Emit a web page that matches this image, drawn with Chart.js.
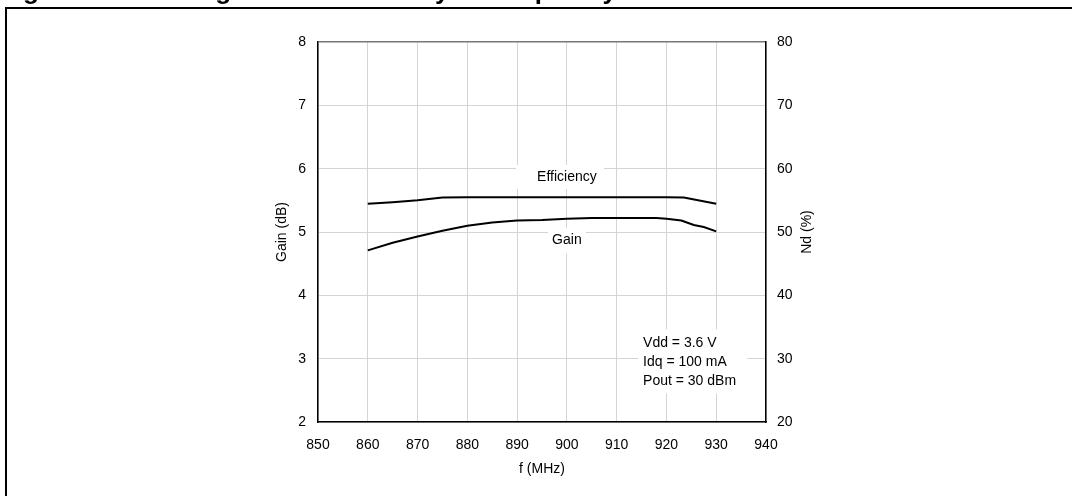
<!DOCTYPE HTML>
<html>

<head>
    <title>Gain and efficiency vs frequency</title>
    <meta charset="utf-8">
    <script src="https://cdn.jsdelivr.net/npm/chart.js@4.4.1/dist/chart.umd.min.js"></script>
    <style>
        html,
        body {
            margin: 0;
            padding: 0;
            background: #fff;
        }

        #wrap {
            position: relative;
            width: 1072px;
            height: 496px;
        }
    </style>
</head>

<body>
    <div id="wrap">
        <canvas id="chart"></canvas>
    </div>
    <script>
        // values
        const figTitle = 'Figure 10. Power gain and efficiency vs frequency';
        const xTitle = 'f (MHz)';
        const yTitle = 'Gain (dB)';
        const y1Title = 'Nd (%)';

        const gainFreq = [860, 865, 870, 875, 880, 885, 890, 895, 900, 905, 910, 915, 918, 920, 923, 925.5, 927.5, 930];
        const gainDb = [4.71, 4.83, 4.93, 5.02, 5.10, 5.15, 5.18, 5.19, 5.21, 5.22, 5.22, 5.22, 5.22, 5.21, 5.18, 5.11, 5.08, 5.01];

        const effFreq = [860, 865, 870, 875, 880, 890, 900, 910, 920, 923.5, 930];
        const effPct = [54.45, 54.7, 55.0, 55.45, 55.5, 55.5, 55.5, 55.5, 55.5, 55.45, 54.45];

        const gainRange = [2, 8];
        const effRange = [20, 80];
        const freqRange = [850, 940];

        // text notes, placed at data coordinates (freq, gain)
        const notes = [
            { lines: ['Efficiency'], at: [900, 5.87], align: 'center', box: [-51, -12, 88, 24] },
            { lines: ['Gain'], at: [900, 4.87], align: 'center', box: [-19, -12, 38, 25] },
        ];
        const conditions = ['Vdd = 3.6 V', 'Idq = 100 mA', 'Pout = 30 dBm'];

        Chart.defaults.font.family = "'Liberation Sans', Arial, sans-serif";
        Chart.defaults.font.size = 14;
        Chart.defaults.color = '#000';

        const frame = {
            id: 'frame',
            afterDraw(chart) {
                const c = chart.ctx;
                c.save();
                c.fillStyle = '#000';
                c.fillRect(5, 7, chart.width - 5, 2);
                c.fillRect(5, 7, 2, chart.height - 7);
                // cut-off figure title
                c.font = "bold 26px 'Liberation Sans', Arial, sans-serif";
                c.textBaseline = 'alphabetic';
                c.textAlign = 'left';
                c.fillText(figTitle, 0, -1.5);
                // right axis title, reads bottom to top
                c.translate(807.5, (chart.chartArea.top + chart.chartArea.bottom) / 2);
                c.rotate(-Math.PI / 2);
                c.textAlign = 'center';
                c.textBaseline = 'middle';
                c.font = "14px 'Liberation Sans', Arial, sans-serif";
                c.fillText(y1Title, 0, 0);
                c.restore();
            }
        };

        const labels = {
            id: 'labels',
            beforeDatasetsDraw(chart) {
                const c = chart.ctx;
                const xs = chart.scales.x, ys = chart.scales.y;
                c.save();
                c.font = "14px 'Liberation Sans', Arial, sans-serif";
                c.textBaseline = 'middle';
                notes.forEach(n => {
                    const px = xs.getPixelForValue(n.at[0]);
                    const py = ys.getPixelForValue(n.at[1]);
                    c.fillStyle = '#fff';
                    c.fillRect(px + n.box[0], py + n.box[1], n.box[2], n.box[3]);
                    c.fillStyle = '#000';
                    c.textAlign = n.align;
                    c.fillText(n.lines[0], px, py);
                });
                // conditions box
                const bx = xs.getPixelForValue(915.3);
                const by = ys.getPixelForValue(3.24);
                c.fillStyle = '#fff';
                c.fillRect(bx - 5, by - 14, 109, 64);
                c.fillStyle = '#000';
                c.textAlign = 'left';
                conditions.forEach((t, i) => c.fillText(t, bx, by + i * 19));
                c.restore();
            }
        };

        new Chart(document.getElementById('chart'), {
            type: 'line',
            data: {
                datasets: [{
                    label: 'Efficiency',
                    data: effFreq.map((f, i) => ({ x: f, y: effPct[i] })),
                    yAxisID: 'y1',
                    borderColor: '#000',
                    borderWidth: 2,
                    pointRadius: 0,
                    tension: 0
                }, {
                    label: 'Gain',
                    data: gainFreq.map((f, i) => ({ x: f, y: gainDb[i] })),
                    yAxisID: 'y',
                    borderColor: '#000',
                    borderWidth: 2,
                    pointRadius: 0,
                    tension: 0
                }]
            },
            options: {
                responsive: true,
                maintainAspectRatio: false,
                animation: false,
                layout: { padding: { top: 42, left: 0, right: 0, bottom: 0 } },
                plugins: {
                    legend: { display: false },
                    tooltip: { enabled: false }
                },
                scales: {
                    x: {
                        type: 'linear',
                        position: 'bottom',
                        min: freqRange[0], max: freqRange[1],
                        ticks: { stepSize: 10, padding: 15 },
                        grid: { color: '#d4d4d4', lineWidth: 1, drawTicks: false },
                        border: { color: '#000', width: 1.5 },
                        title: { display: true, text: xTitle, padding: { top: 0, bottom: 18 } },
                        afterFit: s => { s.height = 74; }
                    },
                    y: {
                        position: 'left',
                        min: gainRange[0], max: gainRange[1],
                        ticks: { stepSize: 1, padding: 12 },
                        grid: {
                            color: ctx => ctx.tick && ctx.tick.value === gainRange[1] ? '#777' : '#d4d4d4',
                            lineWidth: ctx => ctx.tick && ctx.tick.value === gainRange[1] ? 1.5 : 1,
                            drawTicks: false
                        },
                        border: { color: '#000', width: 1.5 },
                        title: { display: true, text: yTitle, padding: { top: 274, bottom: 0 } },
                        afterFit: s => { s.width = 318; }
                    },
                    y1: {
                        position: 'right',
                        min: effRange[0], max: effRange[1],
                        ticks: { stepSize: 10, padding: 11 },
                        grid: { display: false, drawTicks: false },
                        border: { color: '#000', width: 1.5 },
                        afterFit: s => { s.width = 306; }
                    }
                }
            },
            plugins: [labels, frame]
        });
    </script>
</body>

</html>
